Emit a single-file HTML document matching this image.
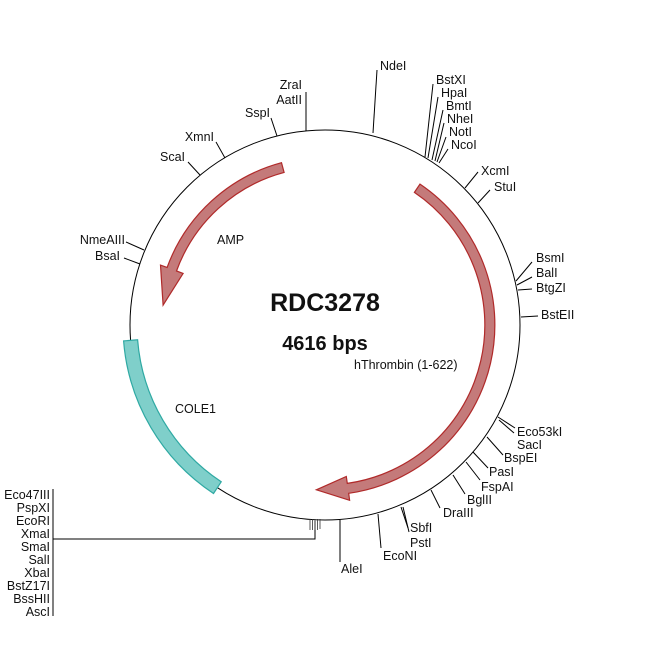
<!DOCTYPE html>
<html><head><style>html,body{margin:0;padding:0;background:#fff}svg{display:block}text{font-family:"Liberation Sans",Arial,sans-serif;font-size:12.5px;fill:#111}</style></head>
<body>
<svg width="650" height="650" viewBox="0 0 650 650">
<circle cx="325" cy="325" r="195" fill="none" stroke="#000" stroke-width="1"/>
<path d="M420,184.1 A170,170 0 0 1 348.7,493.3 L349.6,500.3 L316.4,489.8 L346.3,476.5 L347.3,483.4 A160,160 0 0 0 414.4,192.4 Z" fill="#c47a7a" stroke="#b02a2a" stroke-width="1.2"/>
<path d="M281.5,162.7 A168,168 0 0 0 167.1,267.5 L160.5,265.1 L163.1,305.1 L183.1,273.4 L176.5,271.0 A158,158 0 0 1 284.1,172.4 Z" fill="#c47a7a" stroke="#b02a2a" stroke-width="1.2"/>
<path d="M123.6,340.9 A202,202 0 0 0 213.5,493.5 L221.2,481.8 A188,188 0 0 1 137.6,339.8 Z" fill="#7fcfca" stroke="#2fa9a3" stroke-width="1.2"/>
<g stroke="#000" stroke-width="1" fill="none">
<path d="M306,92 L306,131"/><path d="M271,118 L277,136"/><path d="M216,142 L225,158"/><path d="M188,162 L200,175"/>
<path d="M126,242 L144,250"/><path d="M124,258 L140,264"/>
<path d="M377,70 L373,133"/><path d="M433,84 L425,157"/><path d="M438,97 L428,158"/><path d="M443,110 L432,160"/><path d="M444,123 L435,161"/><path d="M446,137 L437,162"/><path d="M448,149 L439,163"/>
<path d="M478,172 L465,188"/><path d="M490,190 L478,203"/>
<path d="M532,262 L516,281"/><path d="M532,277 L517,285"/><path d="M532,289 L518,290"/><path d="M538,316 L521,317"/>
<path d="M515,428 L498,417"/><path d="M514,433 L499,420"/><path d="M503,455 L487,437"/><path d="M488,468 L473,452"/><path d="M480,480 L466,462"/><path d="M465,494 L453,475"/><path d="M440,508 L431,490"/><path d="M408,528 L401,507"/><path d="M409,532 L403,507"/><path d="M381,548 L378,514"/><path d="M340,562 L340,520"/>
<path d="M53,539 L315,539 L315,521"/><path d="M53,489 L53,616"/>
<path d="M310,519 L310,530 M312.5,519 L312.5,530 M315,519 L315,530 M317.5,519 L317.5,530 M320,519 L320,529" stroke="#333" stroke-width="0.8"/>
</g>
<text x="302" y="89" text-anchor="end">ZraI</text><text x="302" y="104" text-anchor="end">AatII</text>
<text x="270" y="117" text-anchor="end">SspI</text><text x="214" y="141" text-anchor="end">XmnI</text><text x="185" y="161" text-anchor="end">ScaI</text>
<text x="125" y="244" text-anchor="end">NmeAIII</text><text x="120" y="260" text-anchor="end">BsaI</text>
<text x="380" y="70">NdeI</text><text x="436" y="84">BstXI</text><text x="441" y="97">HpaI</text><text x="446" y="110">BmtI</text><text x="447" y="123">NheI</text><text x="449" y="136">NotI</text><text x="451" y="149">NcoI</text>
<text x="481" y="175">XcmI</text><text x="494" y="191">StuI</text>
<text x="536" y="262">BsmI</text><text x="536" y="277">BalI</text><text x="536" y="292">BtgZI</text><text x="541" y="319">BstEII</text>
<text x="517" y="436">Eco53kI</text><text x="517" y="449">SacI</text><text x="504" y="462">BspEI</text><text x="489" y="476">PasI</text><text x="481" y="491">FspAI</text><text x="467" y="504">BglII</text><text x="443" y="517">DraIII</text><text x="410" y="532">SbfI</text><text x="410" y="547">PstI</text><text x="383" y="560">EcoNI</text><text x="341" y="573">AleI</text>
<g text-anchor="end"><text x="50" y="499">Eco47III</text><text x="50" y="512">PspXI</text><text x="50" y="525">EcoRI</text><text x="50" y="538">XmaI</text><text x="50" y="551">SmaI</text><text x="50" y="564">SalI</text><text x="50" y="577">XbaI</text><text x="50" y="590">BstZ17I</text><text x="50" y="603">BssHII</text><text x="50" y="616">AscI</text></g>
<text x="325" y="311" text-anchor="middle" style="font-size:25px;font-weight:bold">RDC3278</text>
<text x="325" y="350" text-anchor="middle" style="font-size:20px;font-weight:bold">4616 bps</text>
<text x="354" y="369">hThrombin (1-622)</text>
<text x="217" y="244">AMP</text>
<text x="175" y="413">COLE1</text>
</svg>
</body></html>
